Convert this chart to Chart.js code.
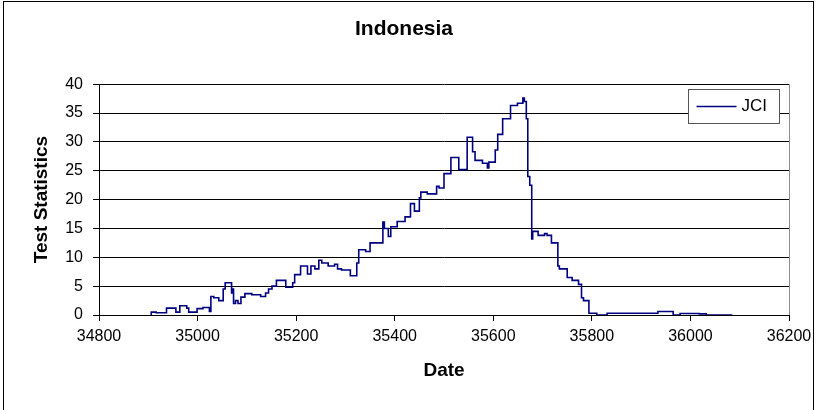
<!DOCTYPE html>
<html>
<head>
<meta charset="utf-8">
<script src="https://cdn.jsdelivr.net/npm/chart.js@4/dist/chart.umd.min.js"></script>
<style>
    html, body { margin: 0; padding: 0; background: #fff; }
    #wrap { width: 817px; height: 410px; }
</style>
</head>
<body>
<div id="wrap"><canvas id="chart" width="817" height="410"></canvas></div>
<script>
// JCI test statistic, each value holds from its date until the next one
const dates = [
    34906, 34916, 34937, 34956, 34964, 34978, 34982, 34999, 35011, 35024,
    35027, 35033, 35043, 35052, 35056, 35069, 35071, 35073, 35077, 35082,
    35088, 35096, 35110, 35128, 35138, 35144, 35151, 35160, 35179, 35193,
    35197, 35209, 35223, 35230, 35238, 35246, 35252, 35265, 35278, 35284,
    35292, 35310, 35323, 35327, 35341, 35350, 35376, 35379, 35387, 35392,
    35405, 35421, 35432, 35440, 35450, 35453, 35466, 35485, 35490, 35500,
    35514, 35530, 35547, 35558, 35563, 35578, 35588, 35591, 35604, 35609,
    35619, 35635, 35649, 35660, 35663, 35667, 35670, 35674, 35678, 35680,
    35691, 35704, 35709, 35718, 35731, 35734, 35750, 35760, 35773, 35779,
    35783, 35794, 35810, 35831, 35934, 35965, 35979, 36018, 36032, 36046,
    36085
];
const jci = [
    0, 0.5, 0.4, 1.2, 0.5, 1.6, 1.2, 0.5, 1.1, 1.3,
    0.6, 3.2, 3.0, 2.5, 4.5, 5.6, 3.8, 4.5, 2.0, 2.5,
    2.0, 3.1, 3.7, 3.5, 3.2, 3.8, 4.5, 5.0, 6.0, 4.8,
    5.6, 7.0, 8.5, 7.1, 8.5, 8.0, 9.5, 9.0, 8.5, 8.8,
    8.0, 7.8, 6.8, 9.0, 11.3, 11.0, 12.5, 16.1, 15.0, 13.6,
    15.3, 16.2, 17.0, 19.3, 18.0, 20.3, 21.3, 21.0, 22.3, 22.0,
    24.5, 27.3, 25.2, 30.8, 28.3, 26.8, 26.3, 25.5, 26.5, 28.6,
    31.3, 34.0, 36.3, 36.7, 37.6, 37.0, 34.0, 24.0, 22.5, 13.2,
    14.5, 13.8, 14.1, 13.8, 12.5, 8.5, 8.0, 6.5, 6.0, 5.3,
    3.0, 2.5, 0.3, 0, 0.3, 0.6, 0, 0.25, 0.2, 0,
    0
];

const xRange = [34800, 36200];
const xStep = 200;
const yRange = [0, 40];
const yStep = 5;

Chart.defaults.font.family = "'Liberation Sans', Arial, sans-serif";
Chart.defaults.color = '#000';

// outer frame, right edge of the plot and the boxed legend
const chartDecor = {
    id: 'chartDecor',
    beforeDraw(chart) {
        const ctx = chart.ctx;
        ctx.save();
        ctx.fillStyle = '#fff';
        ctx.fillRect(0, 0, chart.width, chart.height);
        ctx.strokeStyle = '#000';
        ctx.lineWidth = 1;
        ctx.strokeRect(3.5, 1.5, chart.width - 7, chart.height + 10);
        ctx.restore();
    },
    afterDatasetsDraw(chart) {
        const ctx = chart.ctx;
        const area = chart.chartArea;
        ctx.save();
        ctx.strokeStyle = '#8c8c8c';
        ctx.lineWidth = 1;
        ctx.beginPath();
        ctx.moveTo(Math.round(area.right) + 0.5, area.top);
        ctx.lineTo(Math.round(area.right) + 0.5, area.bottom);
        ctx.stroke();

        const ds = chart.data.datasets[0];
        const bx = Math.round(area.right) - 100.5;
        const by = Math.round(area.top) + 5.5;
        ctx.fillStyle = '#fff';
        ctx.fillRect(bx, by, 91, 34);
        ctx.strokeStyle = '#555';
        ctx.strokeRect(bx, by, 91, 34);
        ctx.strokeStyle = ds.borderColor;
        ctx.lineWidth = 1.5;
        ctx.beginPath();
        ctx.moveTo(bx + 8, by + 17);
        ctx.lineTo(bx + 48, by + 17);
        ctx.stroke();
        ctx.fillStyle = '#000';
        ctx.font = "17px 'Liberation Sans', Arial, sans-serif";
        ctx.textBaseline = 'middle';
        ctx.fillText(ds.label, bx + 53, by + 17);
        ctx.restore();
    }
};

const ctx = document.getElementById('chart').getContext('2d');
new Chart(ctx, {
    type: 'line',
    data: {
        datasets: [{
            label: 'JCI',
            data: dates.map((d, i) => ({ x: d, y: jci[i] })),
            borderColor: '#000080',
            borderWidth: 1.6,
            pointRadius: 0,
            stepped: 'after',
            fill: false
        }]
    },
    options: {
        responsive: false,
        animation: false,
        layout: { padding: { left: 19, right: 28, top: 0, bottom: 0 } },
        plugins: {
            legend: { display: false },
            tooltip: { enabled: false },
            title: {
                display: true,
                text: 'Indonesia',
                font: { size: 21, weight: 'bold' },
                padding: { top: 17, bottom: 42 }
            }
        },
        scales: {
            x: {
                type: 'linear',
                min: xRange[0],
                max: xRange[1],
                ticks: { stepSize: xStep, font: { size: 16 }, padding: 6, maxRotation: 0, callback: v => String(v) },
                grid: { drawOnChartArea: false, drawTicks: true, tickLength: 6, color: '#000' },
                border: { color: '#000', width: 1 },
                title: { display: true, text: 'Date', font: { size: 19, weight: 'bold' }, padding: { top: 0, bottom: 28 } },
                afterFit(scale) {
                    scale.height = 95;
                    scale.paddingLeft = 0;
                    scale.paddingRight = 0;
                }
            },
            y: {
                min: yRange[0],
                max: yRange[1],
                ticks: { stepSize: yStep, font: { size: 16 }, padding: 10 },
                grid: { color: '#000', tickLength: 6 },
                border: { color: '#000', width: 1 },
                title: { display: true, text: 'Test Statistics', font: { size: 19, weight: 'bold' }, padding: { top: 11, bottom: 0 } },
                afterFit(scale) {
                    scale.width = 80;
                    scale.paddingTop = 0;
                    scale.paddingBottom = 0;
                }
            }
        }
    },
    plugins: [chartDecor]
});
</script>
</body>
</html>
